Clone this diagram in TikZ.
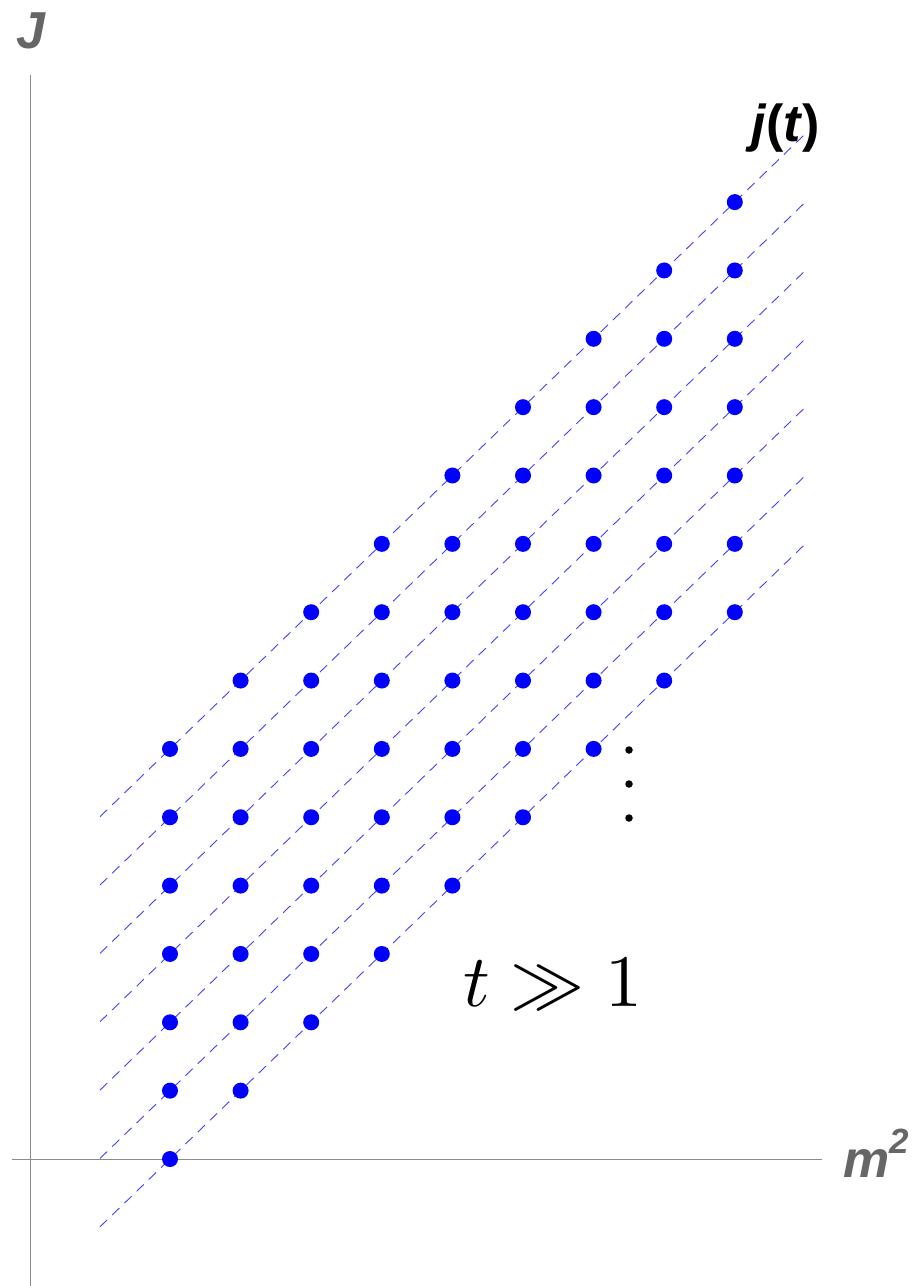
\documentclass[tikz,border=0pt]{standalone}
\usepackage{fontspec}
\newfontfamily\lab{Liberation Sans}
\begin{document}
\begin{tikzpicture}[x=1pt,y=-1pt,
  axis/.style={draw=black!45,line width=1pt},
  axlabel/.style={text=black!60,font=\lab\bfseries\itshape\fontsize{52}{56}\selectfont,inner sep=0pt},
  traj/.style={draw=blue!75,line width=0.9pt,dash pattern=on 10pt off 7pt},
  pt/.style={circle,fill=blue,inner sep=0pt,minimum size=16pt},
  smalldot/.style={circle,fill=black,inner sep=0pt,minimum size=7.5pt}]
\useasboundingbox (0,0) rectangle (913,1286);
% axes
\coordinate (yb) at (30,1286);
\coordinate (yt) at (30,75);
\coordinate (xl) at (12,1159);
\coordinate (xr) at (822,1159);
\draw[axis] (yb) -- (yt);
\draw[axis] (xl) -- (xr);
\node[axlabel,anchor=base west] (Jlab) at (16,48) {J};
\node[axlabel,anchor=base west] (mlab) at (843,1177) {m\raisebox{24pt}{\fontsize{35}{35}\selectfont 2}};
% trajectories
\foreach \n in {0,...,6}{
  \coordinate (s\n) at (100,{1159-68.35*\n+67.77});
  \coordinate (e\n) at (805,{1159-68.35*\n-614.8});
  \draw[traj] (s\n) -- (e\n);
}
% dots
\foreach \i in {0,...,8}{
  \foreach \k in {0,...,6}{
    \node[pt] (d\i-\k) at ({170+70.6*\i},{1159-68.35*(\i+\k)}) {};
  }
}
\node[inner sep=0pt,anchor=base west,font=\lab\bfseries\fontsize{52}{56}\selectfont] (jt) at (751,141) {\textit{j}(\textit{t})};
\node[smalldot] (v1) at (629,750) {};
\node[smalldot] (v2) at (629,784) {};
\node[smalldot] (v3) at (629,818) {};
\node[inner sep=0pt,anchor=base west,scale=7.4,transform shape] (tg) at (462,1006) {$t \gg 1$};
\end{tikzpicture}
\end{document}
